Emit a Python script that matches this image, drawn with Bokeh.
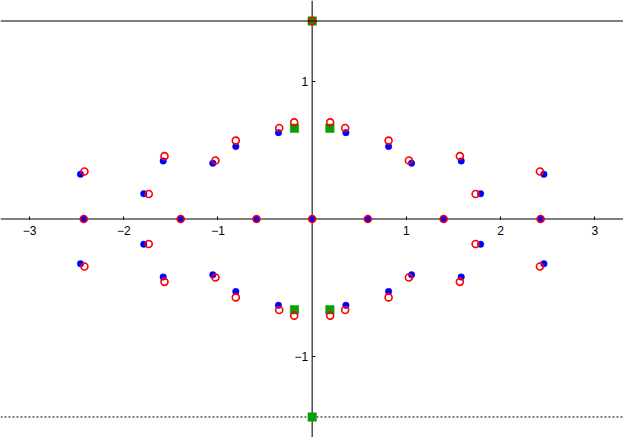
from bokeh.plotting import figure
from bokeh.models import Range1d, LinearAxis, FixedTicker, Span
from bokeh.embed import file_html
from bokeh.resources import INLINE

# ---- data ----
blue_x = [-2.425, -1.396, -0.591, 0.0, 0.591, 1.396, 2.425,
          -2.460, -1.788, -1.582, -1.055, -0.811, -0.358,
          0.358, 0.811, 1.055, 1.582, 1.788, 2.460,
          -2.460, -1.788, -1.582, -1.055, -0.811, -0.358,
          0.358, 0.811, 1.055, 1.582, 1.788, 2.460]
blue_y = [0.0, 0.0, 0.0, 0.0, 0.0, 0.0, 0.0,
          0.325, 0.184, 0.422, 0.406, 0.527, 0.628,
          0.628, 0.527, 0.406, 0.422, 0.184, 0.325,
          -0.325, -0.184, -0.422, -0.406, -0.527, -0.628,
          -0.628, -0.527, -0.406, -0.422, -0.184, -0.325]

red_x = [-2.425, -1.396, -0.591, 0.0, 0.591, 1.396, 2.425,
         -2.418, -1.735, -1.568, -1.027, -0.811, -0.350, -0.191,
         0.191, 0.350, 0.811, 1.027, 1.568, 1.735, 2.418,
         -2.418, -1.735, -1.568, -1.027, -0.811, -0.350, -0.191,
         0.191, 0.350, 0.811, 1.027, 1.568, 1.735, 2.418,
         0.0]
red_y = [0.0, 0.0, 0.0, 0.0, 0.0, 0.0, 0.0,
         0.345, 0.182, 0.457, 0.425, 0.570, 0.662, 0.703,
         0.703, 0.662, 0.570, 0.425, 0.457, 0.182, 0.345,
         -0.345, -0.182, -0.457, -0.425, -0.570, -0.662, -0.703,
         -0.703, -0.662, -0.570, -0.425, -0.457, -0.182, -0.345,
         1.44]

green_x = [-0.188, 0.188, -0.188, 0.188, 0.0, 0.0]
green_y = [0.66, 0.66, -0.66, -0.66, 1.44, -1.44]

upper_level = [1.44]
lower_level = [-1.44]
origin = [0.0]

x_ticks = [-3.0, -2.0, -1.0, 1.0, 2.0, 3.0]
x_tick_labels = ["\u22123", "\u22122", "\u22121", "1", "2", "3"]
y_ticks = [-1.0, 1.0]
y_tick_labels = ["\u22121", "1"]

# ---- figure ----
p = figure(width=623, height=437,
           x_range=Range1d(-3.309, 3.305), y_range=Range1d(-1.589, 1.589),
           x_axis_location=None, y_axis_location=None,
           toolbar_location=None, output_backend="svg",
           min_border=0, outline_line_color=None,
           background_fill_color="white", border_fill_color="white")
p.grid.visible = False

def style_axis(ax, standoff):
    ax.axis_line_color = None
    ax.major_tick_in = 3
    ax.major_tick_out = 0
    ax.major_tick_line_color = "black"
    ax.minor_tick_line_color = None
    ax.major_label_text_font = "Liberation Sans"
    ax.major_label_text_font_size = "12px"
    ax.major_label_text_color = "black"
    ax.major_label_standoff = standoff

xaxis = LinearAxis(fixed_location=0, ticker=FixedTicker(ticks=x_ticks),
                   major_label_overrides=dict(zip(x_ticks, x_tick_labels)))
style_axis(xaxis, 7)
p.add_layout(xaxis, "below")

yaxis = LinearAxis(fixed_location=0, ticker=FixedTicker(ticks=y_ticks),
                   major_label_overrides=dict(zip(y_ticks, y_tick_labels)))
style_axis(yaxis, 4)
p.add_layout(yaxis, "left")

# axis lines through the origin
for o in origin:
    p.add_layout(Span(location=o, dimension="width", line_color="black",
                      line_width=1, level="underlay"))
    p.add_layout(Span(location=o, dimension="height", line_color="#333333",
                      line_width=1.3, level="underlay"))

for lv in lower_level:
    p.add_layout(Span(location=lv, dimension="width", line_color="black",
                      line_width=1, line_dash="2 2", level="underlay"))

p.scatter(blue_x, blue_y, marker="circle", size=6.5, fill_color="#0000ff",
          line_color="#0000ff", line_width=0.5)
p.scatter(green_x, green_y, marker="square", size=8.5, fill_color="#0a9f0a",
          line_color="#0a9f0a", line_width=0.5)
p.scatter(red_x, red_y, marker="circle", size=7, fill_color=None,
          line_color="#ff0000", line_width=1.6)

for lv in upper_level:
    p.add_layout(Span(location=lv, dimension="width", line_color="black",
                      line_width=1))

open("out.html", "w").write(file_html(p, INLINE))
